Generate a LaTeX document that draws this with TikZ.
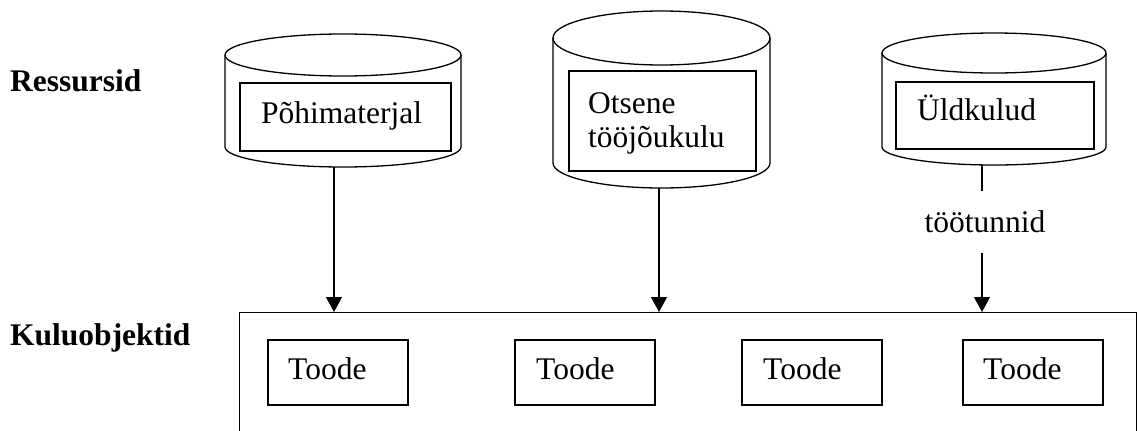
\documentclass[tikz,border=0pt]{standalone}
\usepackage{fontspec}
\setmainfont{Liberation Serif}
\usetikzlibrary{arrows.meta}
\tikzset{
  cyl/.style={line width=1.3pt},
  inbox/.style={draw, line width=1.8pt, inner sep=0pt, anchor=north west},
  prodbox/.style={draw, line width=1.6pt, inner sep=0pt, anchor=north west, minimum width=140pt, minimum height=65pt},
  txt/.style={font=\fontsize{31.5}{34}\selectfont, inner sep=0pt},
  conn/.style={line width=1.3pt},
  arr/.style={line width=1.3pt, -{Triangle[length=15pt,width=16pt]}},
}
\begin{document}
\begin{tikzpicture}[x=1pt,y=-1pt]
\useasboundingbox (0,0) rectangle (1138,431);
% labels
\node[txt, font=\fontsize{31.5}{34}\selectfont\bfseries, anchor=base west] (lres) at (10,91) {Ressursid};
\node[txt, font=\fontsize{31.5}{34}\selectfont\bfseries, anchor=base west] (lobj) at (10,345) {Kuluobjektid};
% cylinder 1
\draw[cyl] (225,55) -- (225,147) arc[start angle=180,end angle=360,x radius=118pt,y radius=20pt] -- (461,55);
\draw[cyl] (343,55) ellipse[x radius=118pt,y radius=21pt];
\coordinate (c1b) at (334,167);
\node[inbox, minimum width=211pt, minimum height=68pt] (r1) at (239,82) {};
\node[txt, anchor=base west] (t1) at (261,123) {Põhimaterjal};
% cylinder 2
\draw[cyl] (553,38) -- (553,163) arc[start angle=180,end angle=360,x radius=108.5pt,y radius=25pt] -- (770,38);
\draw[cyl] (661.5,38) ellipse[x radius=108.5pt,y radius=27pt];
\coordinate (c2b) at (659,188);
\node[inbox, minimum width=187pt, minimum height=100pt] (r2) at (568,70) {};
\node[txt, anchor=base west] (t2a) at (588,113) {Otsene};
\node[txt, anchor=base west] (t2b) at (588,147) {tööjõukulu};
% cylinder 3
\draw[cyl] (882,53) -- (882,147) arc[start angle=180,end angle=360,x radius=112pt,y radius=18pt] -- (1106,53);
\draw[cyl] (994,53) ellipse[x radius=112pt,y radius=20pt];
\coordinate (c3b) at (982,165);
\node[inbox, minimum width=198pt, minimum height=67pt] (r3) at (895,81) {};
\node[txt, anchor=base west] (t3) at (917,120) {Üldkulud};
% cost objects box
\node[draw, line width=1.3pt, inner sep=0pt, anchor=north west, minimum width=897pt, minimum height=140pt] (obj) at (239,312) {};
\node[prodbox] (p1) at (267,339) {};
\node[prodbox] (p2) at (514,339) {};
\node[prodbox] (p3) at (741,339) {};
\node[prodbox] (p4) at (962,339) {};
\node[txt, anchor=base west] (pt1) at (288,379) {Toode};
\node[txt, anchor=base west] (pt2) at (536,379) {Toode};
\node[txt, anchor=base west] (pt3) at (763,379) {Toode};
\node[txt, anchor=base west] (pt4) at (983,379) {Toode};
% connectors
\node[txt, minimum height=62pt] (tt) at (985,222) {töötunnid};
\draw[arr] (c1b) -- (c1b |- obj.north);
\draw[arr] (c2b) -- (c2b |- obj.north);
\draw[conn] (c3b) -- (c3b |- tt.north);
\draw[arr] (c3b |- tt.south) -- (c3b |- obj.north);
\end{tikzpicture}
\end{document}
